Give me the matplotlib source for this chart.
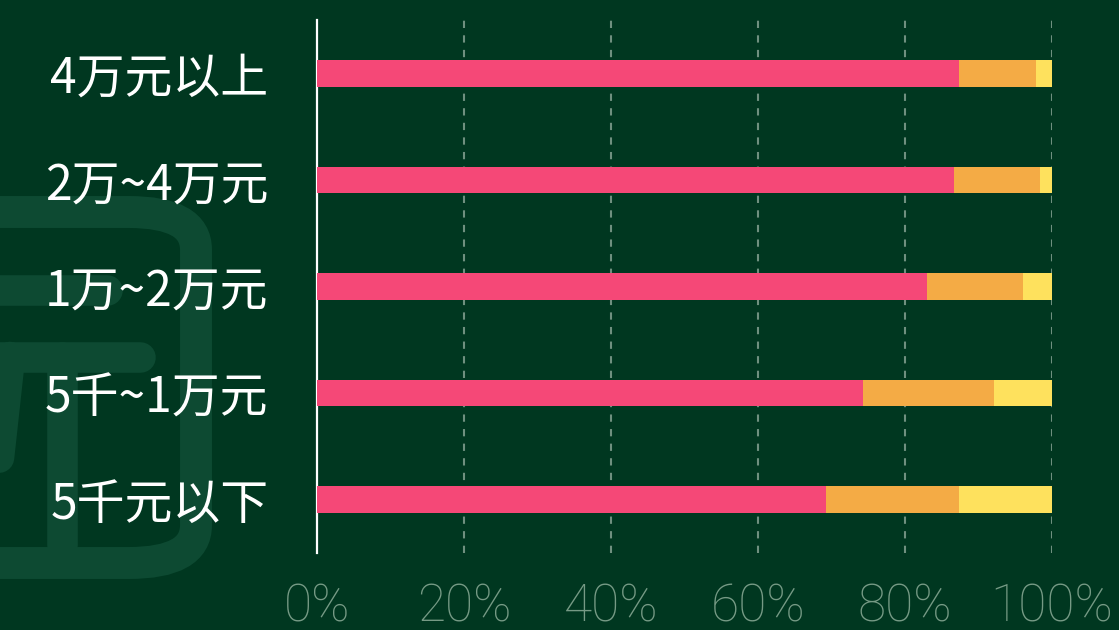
import matplotlib.pyplot as plt
from matplotlib.lines import Line2D
from matplotlib.patches import FancyBboxPatch

categories = ['4万元以上', '2万~4万元', '1万~2万元', '5千~1万元', '5千元以下']
pink = [87.3, 86.7, 83.0, 74.3, 69.3]
orange = [10.5, 11.7, 13.1, 17.8, 18.0]
yellow = [2.2, 1.6, 3.9, 7.9, 12.7]
xticks = [0, 20, 40, 60, 80, 100]
xtick_labels = ['0%', '20%', '40%', '60%', '80%', '100%']

bg = '#003720'
wm = '#0d4a32'
W, H = 1119, 630

fig = plt.figure(figsize=(W / 100, H / 100), dpi=100, facecolor=bg)

# faint watermark on the left (rounded box with strokes)
def px(x, y):
    return x / W, 1 - y / H

x0, y0 = px(-120, 563)
x1, y1 = px(196, 212)
box = FancyBboxPatch((x0, y0), x1 - x0, y1 - y0,
                     boxstyle='round,pad=0,rounding_size=0.06',
                     transform=fig.transFigure, fill=False,
                     edgecolor=wm, linewidth=23, zorder=0)
fig.add_artist(box)
for (xa, ya, xb, yb) in [(-20, 290, 107, 290), (-20, 357, 140, 357),
                         (62, 357, 62, 545), (10, 357, -10, 540)]:
    a = px(xa, ya)
    b = px(xb, yb)
    fig.add_artist(Line2D([a[0], b[0]], [a[1], b[1]], transform=fig.transFigure,
                          color=wm, linewidth=22, solid_capstyle='round', zorder=0))

ax = fig.add_axes([317 / W, 1 - 553 / H, (1052 - 317) / W, (553 - 20) / H])
ax.set_facecolor('none')

y = list(range(len(categories)))
h = 0.25
ax.barh(y, pink, height=h, color='#f54877', zorder=3)
ax.barh(y, orange, height=h, left=pink, color='#f4ab45', zorder=3)
left2 = [p + o for p, o in zip(pink, orange)]
ax.barh(y, yellow, height=h, left=left2, color='#fee15d', zorder=3)

ax.set_xlim(0, 100)
ax.set_ylim(len(categories) - 0.5, -0.5)
ax.set_yticks(y)
ax.set_yticklabels(categories, family=['Noto Sans CJK SC', 'DejaVu Sans'],
                   fontsize=34.5, color='white', fontweight='light')
ax.set_xticks(xticks)
ax.set_xticklabels(xtick_labels, family=['Roboto', 'DejaVu Sans'],
                   fontsize=37, color='#769a85', fontweight='light')
ax.tick_params(axis='both', length=0)
ax.tick_params(axis='y', pad=35)
ax.tick_params(axis='x', pad=21)

for g in xticks[1:]:
    ax.axvline(g, color='#6f907f', linestyle=(0, (3.5, 3.5)), linewidth=1.5, zorder=1)

for s in ['top', 'right', 'bottom']:
    ax.spines[s].set_visible(False)
ax.spines['left'].set_color('white')
ax.spines['left'].set_linewidth(1.6)

fig.savefig('out.png', dpi=100, facecolor=bg)
